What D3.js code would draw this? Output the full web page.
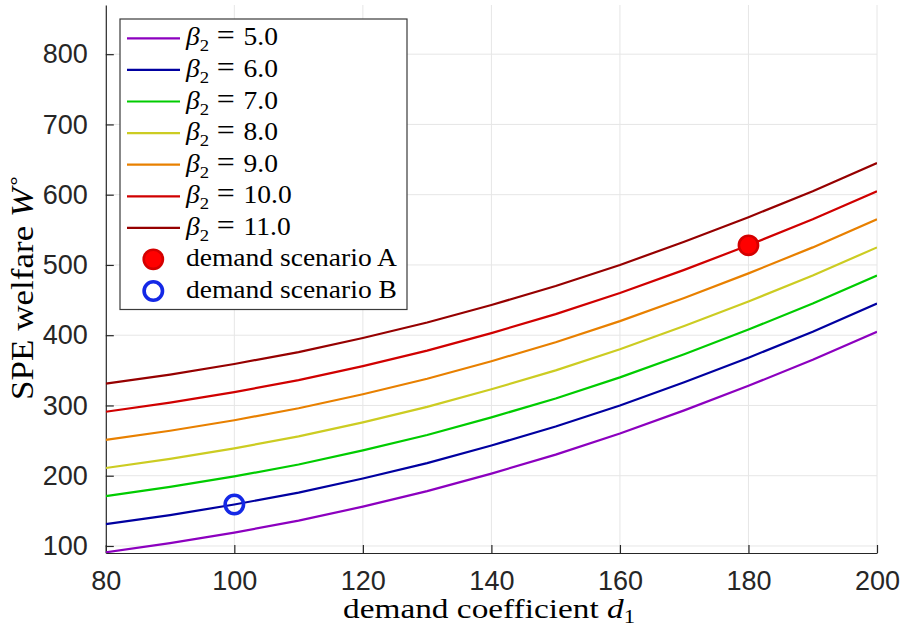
<!DOCTYPE html>
<html>
<head>
<meta charset="utf-8">
<script src="https://cdn.jsdelivr.net/npm/d3@7/dist/d3.min.js"></script>
<style>
  html, body { margin: 0; padding: 0; background: #fff; }
  svg { display: block; }
</style>
</head>
<body>
<svg id="chart" width="905" height="632"></svg>
<script>
// ---------------- data ----------------
const d1 = [80, 90, 100, 110, 120, 130, 140, 150, 160, 170, 180, 190, 200];
const betaValues = ["5.0", "6.0", "7.0", "8.0", "9.0", "10.0", "11.0"];
const W_b5  = [91, 104, 119, 136, 156, 178, 203, 230, 260, 293, 328, 365, 405];
const W_b6  = [131, 144, 159, 176, 196, 218, 243, 270, 300, 333, 368, 405, 445];
const W_b7  = [171, 184, 199, 216, 236, 258, 283, 310, 340, 373, 408, 445, 485];
const W_b8  = [211, 224, 239, 256, 276, 298, 323, 350, 380, 413, 448, 485, 525];
const W_b9  = [251, 264, 279, 296, 316, 338, 363, 390, 420, 453, 488, 525, 565];
const W_b10 = [291, 304, 319, 336, 356, 378, 403, 430, 460, 493, 528, 565, 605];
const W_b11 = [331, 344, 359, 376, 396, 418, 443, 470, 500, 533, 568, 605, 645];
const scenarioA = [180, 528];
const scenarioB = [100, 159];
const xTicks = [80, 100, 120, 140, 160, 180, 200];
const yTicks = [100, 200, 300, 400, 500, 600, 700, 800];

const series = [W_b5, W_b6, W_b7, W_b8, W_b9, W_b10, W_b11];
const colors = ["#8c00bf", "#0000a0", "#00cc00", "#cccc22", "#e88000", "#d00000", "#960000"];

// ---------------- layout ----------------
const svg = d3.select("#chart");
const L = 105.8, R = 877, T = 5, B = 553;
const x = d3.scaleLinear().domain([80, 200]).range([L, R]);
const y = d3.scaleLinear().domain([90, 870]).range([B, T]);
const axisColor = "#262626";
const serif = "'Liberation Serif', 'Times New Roman', serif";
const sans = "'Liberation Sans', Arial, sans-serif";

// grid
const grid = svg.append("g");
grid.selectAll("line.gx").data(xTicks.slice(1)).enter().append("line")
  .attr("x1", d => x(d)).attr("x2", d => x(d)).attr("y1", T).attr("y2", B)
  .attr("stroke", "#e6e6e6").attr("stroke-width", 1);
grid.selectAll("line.gy").data(yTicks).enter().append("line")
  .attr("x1", L).attr("x2", R).attr("y1", d => y(d)).attr("y2", d => y(d))
  .attr("stroke", "#e6e6e6").attr("stroke-width", 1);

// axes
const xAxis = d3.axisBottom(x).tickValues(xTicks).tickSizeInner(-8).tickSizeOuter(0).tickPadding(18);
const gx = svg.append("g").attr("transform", `translate(0,${B})`).call(xAxis);
gx.select(".domain").attr("stroke", axisColor).attr("stroke-width", 1.2);
gx.selectAll(".tick line").attr("stroke", axisColor).attr("stroke-width", 1.2);
gx.selectAll(".tick text").attr("font-family", sans).attr("font-size", 27).attr("fill", axisColor);

const yAxis = d3.axisLeft(y).tickValues(yTicks).tickSizeInner(-8).tickSizeOuter(0).tickPadding(18);
const gy = svg.append("g").attr("transform", `translate(${L},0)`).call(yAxis);
gy.select(".domain").attr("stroke", axisColor).attr("stroke-width", 1.2);
gy.selectAll(".tick line").attr("stroke", axisColor).attr("stroke-width", 1.2);
gy.selectAll(".tick text").attr("font-family", sans).attr("font-size", 27).attr("fill", axisColor);

// clip
svg.append("clipPath").attr("id", "clip").append("rect")
  .attr("x", L).attr("y", T).attr("width", R - L).attr("height", B - T);

// lines
const line = d3.line().x((d, i) => x(d1[i])).y(d => y(d));
svg.append("g").attr("clip-path", "url(#clip)")
  .selectAll("path").data(series).enter().append("path")
  .attr("d", d => line(d))
  .attr("fill", "none")
  .attr("stroke", (d, i) => colors[i])
  .attr("stroke-width", 2.2);

// scenario markers
function markA(g, cx, cy) {
  g.append("circle").attr("cx", cx).attr("cy", cy).attr("r", 9.6)
    .attr("fill", "#ff0000").attr("stroke", "#d40000").attr("stroke-width", 2.6);
}
function markB(g, cx, cy) {
  g.append("circle").attr("cx", cx).attr("cy", cy).attr("r", 9.2)
    .attr("fill", "none").attr("stroke", "#1428e6").attr("stroke-width", 3.6);
}
markA(svg, x(scenarioA[0]), y(scenarioA[1]));
markB(svg, x(scenarioB[0]), y(scenarioB[1]));

// axis labels
function fitWidth(sel, target) {
  const w = sel.node().getComputedTextLength();
  return target / w;
}
const xl = svg.append("text").attr("font-family", serif).attr("font-size", 28).attr("fill", "#000")
  .attr("text-anchor", "middle");
xl.append("tspan").text("demand coefficient ");
xl.append("tspan").attr("font-style", "italic").text("d");
xl.append("tspan").attr("font-size", 19).attr("dy", 5).text("1");
{
  const s = fitWidth(xl, 292);
  xl.attr("transform", `translate(489,618) scale(${s},1)`);
}

const yl = svg.append("text").attr("font-family", serif).attr("font-size", 31).attr("fill", "#000")
  .attr("text-anchor", "middle");
yl.append("tspan").text("SPE welfare ");
yl.append("tspan").attr("font-style", "italic").text("W");
yl.append("tspan").attr("font-size", 20).attr("dy", -12).text("∘");
{
  const s = fitWidth(yl, 227);
  yl.attr("transform", `translate(33,287) rotate(-90) scale(${s},1)`);
}

// legend
const lg = svg.append("g");
lg.append("rect").attr("x", 120).attr("y", 19).attr("width", 287).attr("height", 290.5)
  .attr("fill", "#fff").attr("stroke", "#3a3a3a").attr("stroke-width", 1.2);
const rowY = i => 38.3 + 31.6 * i;
const legFont = 25;
const tA = lg.append("text").attr("font-family", serif).attr("font-size", legFont).attr("fill", "#000").text("demand scenario A");
const tB = lg.append("text").attr("font-family", serif).attr("font-size", legFont).attr("fill", "#000").text("demand scenario B");
const sLeg = fitWidth(tA, 211);
const legTexts = [{t: tA, yb: 265.7}, {t: tB, yb: 297.7}];
betaValues.forEach((b, i) => {
  lg.append("line").attr("x1", 127).attr("x2", 180).attr("y1", rowY(i)).attr("y2", rowY(i))
    .attr("stroke", colors[i]).attr("stroke-width", 2.2);
  const t = lg.append("text").attr("font-family", serif).attr("font-size", legFont).attr("fill", "#000");
  t.append("tspan").attr("font-style", "italic").text("β");
  t.append("tspan").attr("font-size", 17).attr("dy", 6).text("2");
  t.append("tspan").attr("dy", -6).attr("dx", 7).attr("font-size", 29).text("=");
  t.append("tspan").attr("dx", 8).text(b);
  legTexts.push({t, yb: rowY(i) + 7});
});
markA(lg, 153.3, 259.3);
markB(lg, 153.3, 291);
legTexts.forEach(o => o.t.attr("transform", `translate(186,${o.yb}) scale(${sLeg},1)`));
</script>
</body>
</html>
